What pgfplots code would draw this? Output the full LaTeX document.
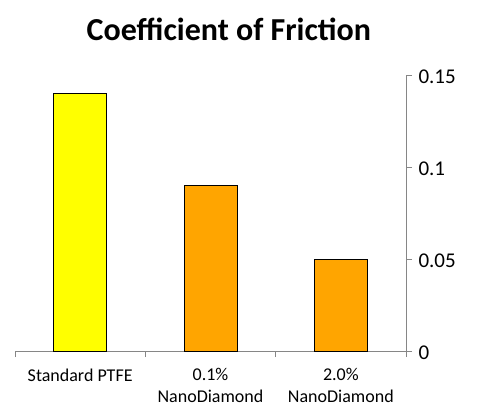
\documentclass[border=0pt]{standalone}
\usepackage{pgfplots}
\pgfplotsset{compat=1.18}
\usepackage{fontspec}
\setmainfont{Carlito}
\definecolor{axisgray}{HTML}{868686}
\definecolor{baryellow}{HTML}{FFFF00}
\definecolor{barorange}{HTML}{FFA500}
\begin{document}
\begin{tikzpicture}
\clip (-15bp,-52bp) rectangle (464bp,351bp);
\begin{axis}[
  at={(0,0)}, anchor=south west,
  scale only axis, width=391bp, height=276bp,
  xmin=-0.5, xmax=2.5, ymin=0, ymax=0.15,
  axis x line*=bottom, axis y line*=right,
  axis line style={axisgray, line width=1pt},
  every outer x axis line/.append style={-}, every outer y axis line/.append style={-},
  ytick={0,0.05,0.1,0.15},
  yticklabels={0,0.05,0.1,0.15},
  tick style={axisgray, line width=1pt},
  tick align=outside,
  major tick length=6bp,
  xtick={-0.5,0.5,1.5,2.5},
  xticklabels={},
  extra x ticks={0,1,2},
  extra x tick labels={Standard PTFE, {0.1\%\\NanoDiamond}, {2.0\%\\NanoDiamond}},
  extra x tick style={major tick length=0pt, xticklabel style={font=\fontsize{18bp}{22bp}\selectfont, align=center, text=black, yshift=-14bp}},
  yticklabel style={font=\fontsize{21bp}{24bp}\selectfont, text=black, xshift=3bp, yshift=-2bp},
  /pgf/number format/assume math mode=true,
  title={Coefficient of Friction},
  title style={at={(0.547,1.145)}, anchor=center, font=\bfseries\fontsize{32bp}{36bp}\selectfont},
  ybar, bar width=53bp, bar shift=0pt,
  clip=false,
]
\addplot[fill=baryellow, draw=black, line width=0.8pt] coordinates {(0,0.14)};
\addplot[fill=barorange, draw=black, line width=0.8pt] coordinates {(1,0.09) (2,0.05)};
\end{axis}
\end{tikzpicture}
\end{document}
